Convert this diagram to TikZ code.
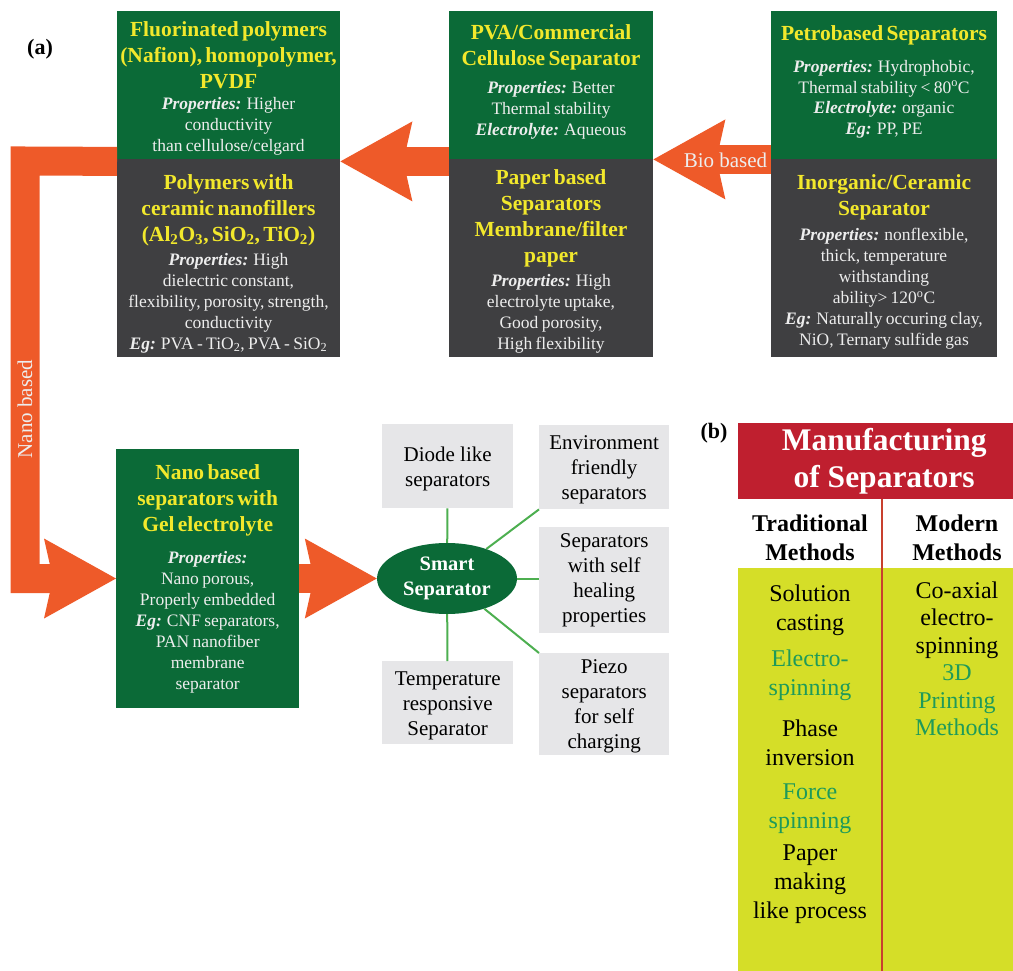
\documentclass[tikz,border=0pt]{standalone}
\usepackage{fontspec}
\setmainfont{Liberation Serif}
\usetikzlibrary{arrows.meta,shapes.geometric,calc}

\definecolor{dgreen}{HTML}{0B6A37}
\definecolor{dgrey}{HTML}{3F3F41}
\definecolor{aorange}{HTML}{EE5A29}
\definecolor{hyellow}{HTML}{F2E82C}
\definecolor{ltext}{HTML}{EDEDED}
\definecolor{lgrey}{HTML}{E6E6E8}
\definecolor{lgreen}{HTML}{4DAF50}
\definecolor{tyellow}{HTML}{D5DE28}
\definecolor{tred}{HTML}{BF1F2F}
\definecolor{tline}{HTML}{C8402E}
\definecolor{tgreen}{HTML}{1E9A5A}

\newcommand\hd{\fontsize{21.5}{26}\selectfont\bfseries\leavevmode\color{hyellow}}
\newcommand\bd{\fontsize{17.5}{21}\selectfont\leavevmode}
\newcommand\pr[1]{\textbf{\textit{#1}}}
\newcommand\lift{\rule{0pt}{19.5pt}}

\tikzset{
  panel/.style={anchor=north west, inner sep=0pt, align=center, text=ltext},
  gpanel/.style={panel, fill=dgreen},
  kpanel/.style={panel, fill=dgrey},
  ptext/.style={inner sep=0pt, align=center, text=ltext},
  sbox/.style={anchor=north west, inner sep=0pt, fill=lgrey, text=black, align=center,
    font=\fontsize{21}{25}\selectfont},
  gline/.style={draw=lgreen, line width=2pt},
  barrow/.style={draw=aorange, line width=29pt, line join=miter,
    -{Stealth[length=72pt,width=80pt,inset=9pt,line width=0pt]}},
  tcell/.style={align=center, inner sep=0pt, font=\fontsize{24}{29}\selectfont},
}

\begin{document}
\begin{tikzpicture}[x=1pt,y=-1pt]
\useasboundingbox (0,0) rectangle (1013,971);
\clip (0,0) rectangle (1013,971);

% ---------- top row of panels ----------
\node[gpanel, minimum width=223pt, minimum height=148pt] (b1g) at (117,11) {};
\node[kpanel, minimum width=223pt, minimum height=198pt] (b1d) at (117,159) {};
\node[gpanel, minimum width=204pt, minimum height=148pt] (b2g) at (449,11) {};
\node[kpanel, minimum width=204pt, minimum height=198pt] (b2d) at (449,159) {};
\node[gpanel, minimum width=226pt, minimum height=148pt] (b3g) at (771,11) {};
\node[kpanel, minimum width=226pt, minimum height=198pt] (b3d) at (771,159) {};

\node[ptext, text width=223pt] (b1gt) at (228.5,88)
 {{\hd Fluorinated polymers\\(Nafion), homopolymer,\\PVDF\par}\vspace{0pt}%
  {\bd\pr{Properties:} Higher\\conductivity\\than cellulose/celgard\par}};
\node[ptext, text width=223pt] (b1dt) at (228.5,263.5)
 {{\hd Polymers with\\ceramic nanofillers\\(Al\textsubscript{2}O\textsubscript{3}, SiO\textsubscript{2}, TiO\textsubscript{2})\par}\vspace{3pt}%
  {\bd\pr{Properties:} High\\dielectric constant,\\flexibility, porosity, strength,\\conductivity\\\pr{Eg:} PVA - TiO\textsubscript{2}, PVA - SiO\textsubscript{2}\par}};

\node[ptext, text width=204pt] (b2gt) at (551,81.5)
 {{\hd PVA/Commercial\\Cellulose Separator\par}\vspace{7pt}%
  {\bd\pr{Properties:} Better\\Thermal stability\\\pr{Electrolyte:} Aqueous\par}};
\node[ptext, text width=204pt] (b2dt) at (551,261.5)
 {{\hd Paper based\\Separators\\Membrane/filter\\paper\par}\vspace{3pt}%
  {\bd\pr{Properties:} High\\electrolyte uptake,\\Good porosity,\\High flexibility\par}};

\node[ptext, text width=226pt] (b3gt) at (884,81.5)
 {{\hd Petrobased Separators\par}\vspace{12pt}%
  {\fontsize{17.5}{20.5}\selectfont\leavevmode\pr{Properties:} Hydrophobic,\\Thermal stability < 80\textsuperscript{o}C\\\pr{Electrolyte:} organic\\\pr{Eg:} PP, PE\par}};
\node[ptext, text width=226pt] (b3dt) at (884,262)
 {{\hd Inorganic/Ceramic\\Separator\par}\vspace{4pt}%
  {\bd\pr{Properties:} nonflexible,\\thick, temperature\\withstanding\\ability> 120\textsuperscript{o}C\\\pr{Eg:} Naturally occuring clay,\\NiO, Ternary sulfide gas\par}};

% ---------- nano panel & smart separator ----------
\node[gpanel, text width=183pt, minimum height=259pt] (nano) at (116,449)
 {{\hd Nano based\\separators with\\Gel electrolyte\par}\vspace{11pt}%
  {\bd\pr{Properties:}\\Nano porous,\\Properly embedded\\\pr{Eg:} CNF separators,\\PAN nanofiber\\membrane\\separator\par}};

\node[ellipse, fill=dgreen, inner sep=0pt, minimum width=140pt, minimum height=71pt,
      text=white, align=center, font=\fontsize{20.5}{25}\selectfont\bfseries]
  (smart) at (447,578.5) {Smart\\Separator};

\node[sbox, minimum width=131pt, minimum height=84pt]  (diode) at (382,424) {\lift Diode like\\separators};
\node[sbox, minimum width=130pt, minimum height=84pt]  (env)   at (539,425) {\lift Environment\\friendly\\separators};
\node[sbox, minimum width=130pt, minimum height=106pt] (heal)  at (539,527) {Separators\\with self\\healing\\properties};
\node[sbox, minimum width=130pt, minimum height=102pt] (piezo) at (539,653) {\rule{0pt}{17.5pt}Piezo\\separators\\for self\\charging};
\node[sbox, minimum width=131pt, minimum height=83pt]  (temp)  at (382,661) {\lift Temperature\\responsive\\Separator};

\draw[gline] (smart) -- (diode);
\draw[gline] (smart) -- (temp);
\draw[gline] (smart) -- (heal.west |- smart.east);
\draw[gline] (smart) -- (env.south west);
\draw[gline] (smart) -- (piezo.north west);

% ---------- orange block arrows ----------
\draw[barrow] (b3g.south west) -- (b2g.south east);
\draw[barrow] ([yshift=-2pt]b2g.south west) -- ([yshift=-2pt]b1g.south east);
\coordinate (lt) at (25,161);
\coordinate (lb) at (25,578.5);
\draw[barrow] ([yshift=-2pt]b1g.south west) -- (lt) -- (lb) -- (nano.west |- smart.west);
\draw[barrow] (nano.east |- smart.west) -- (smart.west);

\node[text=ltext, inner sep=0pt, font=\fontsize{21}{25}\selectfont] (bio) at (725.5,160) {Bio based};
\node[text=ltext, inner sep=0pt, rotate=90, font=\fontsize{21}{25}\selectfont] (nanolbl) at (25,409) {Nano based};

\node[inner sep=0pt, font=\fontsize{22}{26}\selectfont\bfseries] (la) at (40,49) {(a)};
\node[inner sep=0pt, font=\fontsize{22}{26}\selectfont\bfseries] (lbb) at (714,433) {(b)};

% ---------- table (b) ----------
\node[anchor=north west, fill=tred, inner sep=0pt, minimum width=292pt, minimum height=76pt,
      text=white, align=center, font=\fontsize{31.5}{37}\selectfont\bfseries]
  (mhead) at (738,423) {Manufacturing\\of Separators};
\fill[tyellow] (738,568) rectangle (1030,975);
\draw[tline, line width=1.6pt] (882,499) -- (882,975);

\node[tcell, font=\fontsize{24}{29}\selectfont\bfseries] (trad) at (810,537.5) {Traditional\\Methods};
\node[tcell, font=\fontsize{24}{29}\selectfont\bfseries] (mod) at (957,537.5) {Modern\\Methods};

\node[tcell] (t1) at (810,610.5) {Solution\\casting};
\node[tcell, text=tgreen] (t2) at (810,675.5) {Electro-\\spinning};
\node[tcell] (t3) at (810,742.5) {Phase\\inversion};
\node[tcell, text=tgreen] (t4) at (810,808.5) {Force\\spinning};
\node[tcell] (t5) at (810,884.5) {Paper\\making\\like process};

\node[tcell, font=\fontsize{24}{27.5}\selectfont, text width=140pt] (m1) at (957,659)
  {Co-axial\\electro-\\spinning\\\color{tgreen}3D\\Printing\\Methods};
\end{tikzpicture}
\end{document}
